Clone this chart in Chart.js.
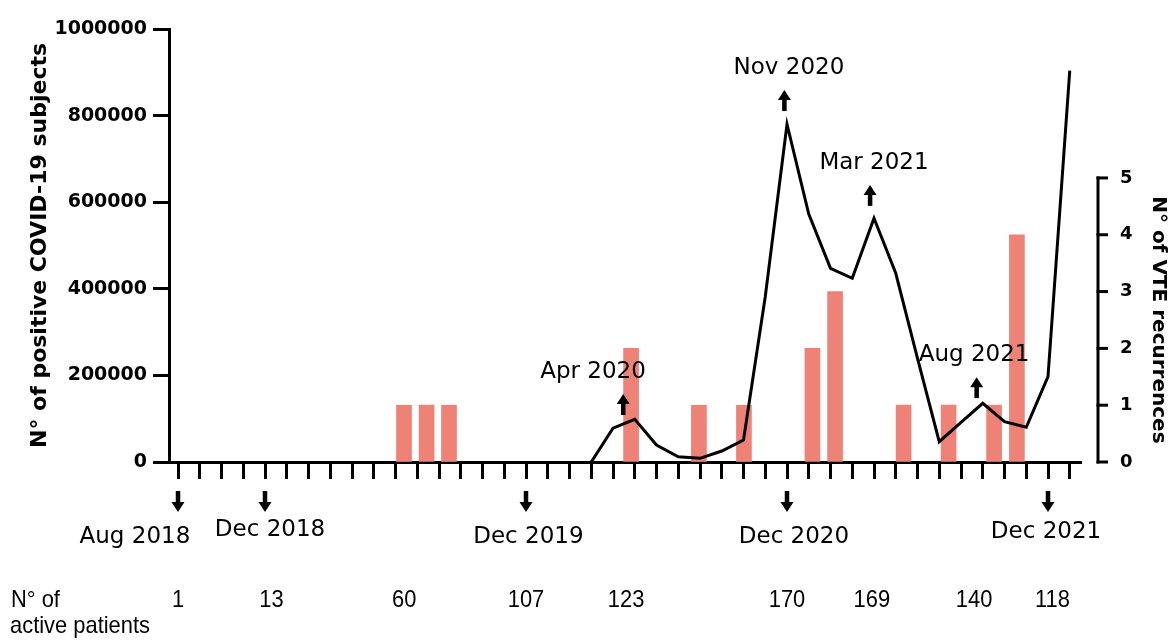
<!DOCTYPE html>
<html>
<head>
<meta charset="utf-8">
<script src="https://cdn.jsdelivr.net/npm/chart.js@4.4.1/dist/chart.umd.min.js"></script>
<style>
  html, body { margin: 0; padding: 0; background: #ffffff; }
  #c { display: block; }
</style>
</head>
<body>
<canvas id="c" width="1170" height="640"></canvas>
<script>
// Month index on the x axis: 0 = Aug 2018 ... 41 = Jan 2022
const covidMonths = [19, 20, 21, 22, 23, 24, 25, 26, 27, 28, 29, 30, 31, 32, 33, 34, 35, 36, 37, 38, 39, 40, 41];
const covidCases  = [0, 78000, 98600, 39300, 12200, 8500, 25400, 50800, 381700, 780000, 572700, 447300,
                     424200, 562800, 435800, 239500, 46900, 91700, 135600, 93100, 80100, 197000, 903700];

const vteMonths = [10.39, 11.43, 12.46, 20.83, 23.95, 26.02, 29.17, 30.21, 33.36, 35.43, 37.52, 38.57];
const vteCounts = [1, 1, 1, 2, 1, 1, 2, 3, 1, 1, 1, 4];

const leftTicks  = [0, 200000, 400000, 600000, 800000, 1000000];
const rightTicks = [0, 1, 2, 3, 4, 5];
const firstMonth = 0, lastMonth = 41;

const peakLabels = ['Apr 2020', 'Nov 2020', 'Mar 2021', 'Aug 2021'];
const peakArrowMonths = [20.47, 27.88, 31.82, 36.72];
const peakArrowTips   = [157000, 859000, 640000, 196000];
const peakLabelMonths = [19.08, 28.09, 32.0, 36.6];

const dateLabels = ['Aug 2018', 'Dec 2018', 'Dec 2019', 'Dec 2020', 'Dec 2021'];
const dateArrowMonths = [0, 4, 16, 28, 40];
const dateLabelMonths = [-1.98, 4.23, 16.11, 28.32, 39.91];

const patientCounts = ['1', '13', '60', '107', '123', '170', '169', '140', '118'];
const patientMonths = [0, 4.3, 10.4, 16, 20.6, 28, 31.9, 36.6, 40.2];

// ---- styling / layout ----
const BLACK = '#000000';
const BAR_COLOR = '#EE8276';
const VTE_AXIS_MAX = 5 / 0.656;   // 5 recurrences sits at ~656000 on the left scale
const dateLabelDy = [25, 18, 25, 25, 20];

function drawArrow(ctx, cx, yTip, dir) {
  // dir = -1 : pointing up (tip on top), dir = +1 : pointing down
  const headH = 10, headW = 13, len = 21, shaftW = 4.5;
  ctx.beginPath();
  ctx.moveTo(cx, yTip);
  ctx.lineTo(cx - headW / 2, yTip - dir * headH);
  ctx.lineTo(cx + headW / 2, yTip - dir * headH);
  ctx.closePath();
  ctx.fill();
  const y1 = yTip - dir * (headH - 1), y2 = yTip - dir * len;
  ctx.fillRect(cx - shaftW / 2, Math.min(y1, y2), shaftW, Math.abs(y2 - y1));
}

const overlay = {
  id: 'overlay',
  afterDraw(chart) {
    const { ctx, chartArea, scales } = chart;
    const x = scales.x, y = scales.y, yR = scales.yR;
    ctx.save();
    ctx.fillStyle = BLACK;
    ctx.strokeStyle = BLACK;

    // right axis line + ticks
    const ax = chartArea.right + 17;
    const yTop = yR.getPixelForValue(rightTicks[rightTicks.length - 1]);
    const yBot = yR.getPixelForValue(rightTicks[0]);
    ctx.lineWidth = 3;
    ctx.beginPath();
    ctx.moveTo(ax, yTop - 1.5);
    ctx.lineTo(ax, yBot + 1.5);
    ctx.stroke();
    rightTicks.forEach(v => {
      const py = yR.getPixelForValue(v);
      ctx.beginPath();
      ctx.moveTo(ax - 1.5, py);
      ctx.lineTo(ax + 10, py);
      ctx.stroke();
    });

    // right axis title
    ctx.save();
    ctx.translate(1158, (yTop + yBot) / 2);
    ctx.rotate(Math.PI / 2);
    ctx.font = 'bold 20px "DejaVu Sans", sans-serif';
    ctx.textAlign = 'center';
    ctx.textBaseline = 'middle';
    ctx.fillText('N° of VTE recurrences', 0, 0);
    ctx.restore();

    // peak annotations
    ctx.font = '23px "DejaVu Sans", sans-serif';
    ctx.textAlign = 'center';
    ctx.textBaseline = 'middle';
    peakLabels.forEach((lab, i) => {
      const px = x.getPixelForValue(peakArrowMonths[i]);
      const tip = y.getPixelForValue(peakArrowTips[i]);
      drawArrow(ctx, px, tip, -1);
      ctx.fillText(lab, x.getPixelForValue(peakLabelMonths[i]), tip - 22);
    });

    // date arrows below the axis
    const base = chartArea.bottom;
    dateLabels.forEach((lab, i) => {
      const px = x.getPixelForValue(dateArrowMonths[i]);
      drawArrow(ctx, px, base + 50, 1);
      ctx.fillText(lab, x.getPixelForValue(dateLabelMonths[i]), base + 50 + dateLabelDy[i]);
    });

    // active patients row
    ctx.font = '24px "Liberation Sans Narrow", "Liberation Sans", sans-serif';
    const w = ctx.measureText('active patients').width;
    const sx = Math.min(1.2, Math.max(0.8, 140 / w));
    const drawScaled = (t, px, py, align) => {
      ctx.save();
      ctx.translate(px, py);
      ctx.scale(sx, 1);
      ctx.textAlign = align;
      ctx.fillText(t, 0, 0);
      ctx.restore();
    };
    drawScaled('N° of', 11, base + 138, 'left');
    drawScaled('active patients', 10, base + 164, 'left');
    patientCounts.forEach((t, i) => {
      drawScaled(t, x.getPixelForValue(patientMonths[i]), base + 138, 'center');
    });
    ctx.restore();
  }
};

const ctx = document.getElementById('c').getContext('2d');
new Chart(ctx, {
  type: 'bar',
  data: {
    datasets: [
      {
        type: 'line',
        label: 'N° of positive COVID-19 subjects',
        data: covidMonths.map((m, i) => ({ x: m, y: covidCases[i] })),
        xAxisID: 'x',
        yAxisID: 'y',
        borderColor: BLACK,
        borderWidth: 3,
        pointRadius: 0,
        tension: 0,
        fill: false,
        order: 0
      },
      {
        type: 'bar',
        label: 'N° of VTE recurrences',
        data: vteMonths.map((m, i) => ({ x: m, y: vteCounts[i] })),
        xAxisID: 'x',
        yAxisID: 'yR',
        backgroundColor: BAR_COLOR,
        borderWidth: 0,
        barThickness: 15,
        order: 1
      }
    ]
  },
  options: {
    responsive: false,
    animation: false,
    devicePixelRatio: 1,
    layout: { padding: { top: 29, left: 0, right: 0, bottom: 0 } },
    plugins: { legend: { display: false }, tooltip: { enabled: false } },
    scales: {
      x: {
        type: 'linear',
        position: 'bottom',
        min: -0.414,
        max: 41.517,
        offset: false,
        afterBuildTicks: (s) => {
          const t = [];
          for (let m = firstMonth; m <= lastMonth; m++) t.push({ value: m });
          s.ticks = t;
        },
        afterFit: (s) => { s.height = 178; },
        ticks: { display: false },
        grid: {
          display: true, offset: false, drawOnChartArea: false, drawTicks: true,
          tickLength: 17, tickWidth: 3, tickColor: BLACK
        },
        border: { display: true, width: 3, color: BLACK }
      },
      y: {
        type: 'linear',
        position: 'left',
        min: 0,
        max: 1000000,
        afterBuildTicks: (s) => { s.ticks = leftTicks.map(v => ({ value: v })); },
        afterFit: (s) => { s.width = 169; },
        ticks: {
          color: BLACK,
          padding: 6,
          font: { family: '"DejaVu Sans", sans-serif', weight: 'bold', size: 19 },
          callback: (v) => String(v)
        },
        grid: {
          display: true, drawOnChartArea: false, drawTicks: true,
          tickLength: 16, tickWidth: 3, tickColor: BLACK
        },
        border: { display: true, width: 3, color: BLACK },
        title: {
          display: true,
          text: 'N° of positive COVID-19 subjects',
          color: BLACK,
          font: { family: '"DejaVu Sans", sans-serif', weight: 'bold', size: 22 },
          padding: { top: 27, bottom: 4 }
        }
      },
      yR: {
        type: 'linear',
        position: 'right',
        min: 0,
        max: VTE_AXIS_MAX,
        afterBuildTicks: (s) => { s.ticks = rightTicks.map(v => ({ value: v })); },
        afterFit: (s) => { s.width = 89; },
        ticks: {
          color: BLACK,
          padding: 5,
          font: { family: '"DejaVu Sans", sans-serif', weight: 'bold', size: 18 },
          callback: (v) => String(v)
        },
        grid: {
          display: true, drawOnChartArea: false, drawTicks: true,
          tickLength: 34, tickWidth: 1, tickColor: 'rgba(0,0,0,0)'
        },
        border: { display: false }
      }
    }
  },
  plugins: [overlay]
});
</script>
</body>
</html>
